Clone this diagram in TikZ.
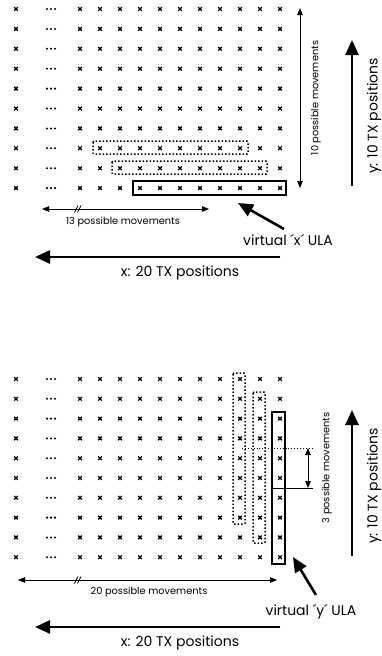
\documentclass[tikz,border=0pt]{standalone}
\usepackage{fontspec}
\setmainfont{Poppins}
\usetikzlibrary{arrows.meta}
\begin{document}
\begin{tikzpicture}[x=1pt,y=-1pt,
  xmk/.pic={\draw[line width=1.3pt] (-1.8,-1.8) -- (1.8,1.8) (-1.8,1.8) -- (1.8,-1.8);},
  threedots/.pic={\fill (-4,0) circle (1.15) (0,0) circle (1.15) (4,0) circle (1.15);},
  dotbox/.style={dotted, line width=1.5pt, rounded corners=1pt},
  ulabox/.style={line width=1.8pt},
  thinarrow/.style={line width=0.8pt, {Triangle[length=7pt,width=5.5pt]}-{Triangle[length=7pt,width=5.5pt]}},
  bigarrow/.style={line width=2.6pt, -{Triangle[length=15pt,width=13pt]}},
  smalllabel/.style={font=\fontsize{9.8}{11}\selectfont, inner sep=0pt},
  biglabel/.style={font=\fontsize{14}{16}\selectfont, inner sep=0pt},
  breakmark/.style={line width=0.8pt}]
\useasboundingbox (0,0) rectangle (382,656);

% ---------------- top grid ----------------
\foreach \r in {0,...,9}{
  \foreach \c in {16,80,100,...,280} \pic at (\c,9+19.9*\r) {xmk};
  \pic at (51,9+19.9*\r) {threedots};
}
\draw[dotbox] (93,141) rectangle (248,154);
\draw[dotbox] (112,161) rectangle (267,174);
\draw[ulabox] (133,181) rectangle (286,195);

\coordinate (tmT) at (300,8);
\coordinate (tmB) at (300,188);
\draw[thinarrow] (tmB) -- (tmT);
\node[smalllabel, rotate=90] (tml) at (316,98) {10 possible movements};

\coordinate (yB1) at (352,186);
\coordinate (yT1) at (352,40);
\draw[bigarrow] (yB1) -- (yT1);
\node[biglabel, rotate=90] (yl1) at (374,116) {y: 10 TX positions};

\coordinate (hL1) at (42,209);
\coordinate (hR1) at (209,209);
\draw[thinarrow] (hL1) -- (hR1);
\draw[breakmark] (74.5,212.5) -- (78,205.5) (77.5,212.5) -- (81,205.5);
\node[smalllabel] (hl1) at (123,222) {13 possible movements};

\node[biglabel] (vx) at (288,240) {virtual ´x´ ULA};
\coordinate (vxS) at (284,229);
\coordinate (vxT) at (238,203);
\draw[bigarrow] (vxS) -- (vxT);

\coordinate (xR1) at (280,257);
\coordinate (xL1) at (35,257);
\draw[bigarrow] (xR1) -- (xL1);
\node[biglabel] (xl1) at (180,273) {x: 20 TX positions};

% ---------------- bottom grid ----------------
\foreach \r in {0,...,9}{
  \foreach \c in {16,80,100,...,280} \pic at (\c,379+19.8*\r) {xmk};
  \pic at (51,379+19.8*\r) {threedots};
}
\draw[dotbox] (233,373) rectangle (245,524);
\draw[dotbox] (253,392) rectangle (265,543);
\draw[ulabox] (272,412) rectangle (285,564);

\coordinate (dL) at (242,448);
\coordinate (dR) at (313,448);
\draw[dotted, line width=0.9pt] (dL) -- (dR);
\coordinate (sL) at (273,488);
\coordinate (sR) at (313,488);
\draw[line width=0.8pt] (sL) -- (sR);
\coordinate (mT) at (308,448);
\coordinate (mB) at (308,488);
\draw[thinarrow] (mT) -- (mB);
\node[smalllabel, rotate=90] (ml) at (327,468) {3 possible movements};

\coordinate (yB2) at (352,556);
\coordinate (yT2) at (352,410);
\draw[bigarrow] (yB2) -- (yT2);
\node[biglabel, rotate=90] (yl2) at (374,486) {y: 10 TX positions};

\coordinate (hL2) at (18,580);
\coordinate (hR2) at (277,580);
\draw[thinarrow] (hL2) -- (hR2);
\draw[breakmark] (74.5,583.5) -- (78,576.5) (77.5,583.5) -- (81,576.5);
\node[smalllabel] (hl2) at (149,592) {20 possible movements};

\node[biglabel] (vy) at (311,612) {virtual ´y´ ULA};
\coordinate (vyS) at (316,595);
\coordinate (vyT) at (293,557);
\draw[bigarrow] (vyS) -- (vyT);

\coordinate (xR2) at (280,627);
\coordinate (xL2) at (35,627);
\draw[bigarrow] (xR2) -- (xL2);
\node[biglabel] (xl2) at (180,643) {x: 20 TX positions};
\end{tikzpicture}
\end{document}
